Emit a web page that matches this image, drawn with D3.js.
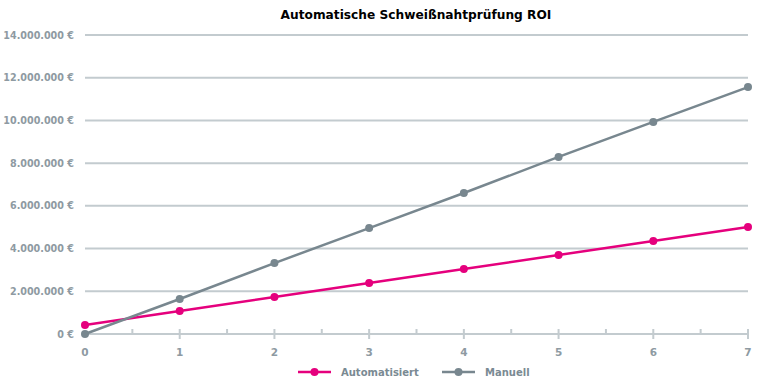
<!DOCTYPE html>
<html>
<head>
<meta charset="utf-8">
<script src="https://cdn.jsdelivr.net/npm/d3@7"></script>
<style>
  body { margin: 0; background: #fff; }
  text { font-family: "DejaVu Sans", sans-serif; }
</style>
</head>
<body>
<svg id="chart" width="757" height="386"></svg>
<script>
const years = [0, 1, 2, 3, 4, 5, 6, 7];
const automatisiert = [420000, 1080000, 1730000, 2390000, 3040000, 3700000, 4350000, 5010000];
const manuell = [0, 1640000, 3320000, 4960000, 6600000, 8290000, 9930000, 11560000];
const yTicks = [0, 2000000, 4000000, 6000000, 8000000, 10000000, 12000000, 14000000];
const seriesNames = ["Automatisiert", "Manuell"];
const colors = ["#e5007d", "#78878f"];

const width = 757, height = 386;
const margin = { top: 35, right: 9, bottom: 52, left: 85 };

const svg = d3.select("#chart");

const x = d3.scaleLinear()
  .domain([0, 7])
  .range([margin.left, width - margin.right]);

const y = d3.scaleLinear()
  .domain([0, 14000000])
  .range([height - margin.bottom, margin.top]);

const fmt = v => d3.format(",")(v).replace(/,/g, ".") + " €";

// gridlines
svg.append("g")
  .selectAll("line")
  .data(yTicks.slice(1))
  .join("line")
  .attr("x1", x(0))
  .attr("x2", x(7))
  .attr("y1", d => y(d))
  .attr("y2", d => y(d))
  .attr("stroke", "#c3cbcf")
  .attr("stroke-width", 2);

// y labels
svg.append("g")
  .attr("transform", `translate(${margin.left - 8},0)`)
  .call(d3.axisLeft(y).tickValues(yTicks).tickFormat(fmt).tickSize(0))
  .call(g => g.select(".domain").remove())
  .call(g => g.selectAll("text")
    .attr("fill", "#8e9aa2")
    .attr("font-size", 9.6)
    .attr("font-weight", "bold")
    .attr("font-family", "DejaVu Sans, sans-serif"));

// x axis with minor ticks
const gx = svg.append("g").attr("transform", `translate(0,${y(0)})`);
gx.append("line")
  .attr("x1", x(0)).attr("x2", x(7))
  .attr("stroke", "#c3cbcf").attr("stroke-width", 2);
gx.append("g")
  .selectAll("line")
  .data(d3.range(0.5, 7, 1))
  .join("line")
  .attr("x1", d => x(d)).attr("x2", d => x(d))
  .attr("y1", -5).attr("y2", 0)
  .attr("stroke", "#c3cbcf").attr("stroke-width", 2);
gx.append("g")
  .selectAll("line")
  .data(years.slice(1))
  .join("line")
  .attr("x1", d => x(d)).attr("x2", d => x(d))
  .attr("y1", -5).attr("y2", 5)
  .attr("stroke", "#c3cbcf").attr("stroke-width", 2);
gx.append("g")
  .selectAll("text")
  .data(years)
  .join("text")
  .attr("x", d => x(d))
  .attr("y", 22)
  .attr("text-anchor", "middle")
  .attr("fill", "#8e9aa2")
  .attr("font-size", 10.5)
  .attr("font-weight", "bold")
  .text(d => d);

// series
const seriesData = [automatisiert, manuell];
const line = d3.line().x((d, i) => x(years[i])).y(d => y(d));
seriesData.forEach((vals, k) => {
  svg.append("path")
    .datum(vals)
    .attr("fill", "none")
    .attr("stroke", colors[k])
    .attr("stroke-width", 2.5)
    .attr("d", line);
  svg.append("g")
    .selectAll("circle")
    .data(vals)
    .join("circle")
    .attr("cx", (d, i) => x(years[i]))
    .attr("cy", d => y(d))
    .attr("r", 4)
    .attr("fill", colors[k]);
});

// title
svg.append("text")
  .attr("x", 416)
  .attr("y", 19)
  .attr("text-anchor", "middle")
  .attr("font-size", 12.2)
  .attr("font-weight", "bold")
  .attr("fill", "#000")
  .text("Automatische Schweißnahtprüfung ROI");

// legend
const legendX = [298, 442];
const lg = svg.append("g").attr("transform", "translate(0,372)");
seriesNames.forEach((name, k) => {
  const g = lg.append("g").attr("transform", `translate(${legendX[k]},0)`);
  g.append("line").attr("x1", 0).attr("x2", 33)
    .attr("stroke", colors[k]).attr("stroke-width", 2.5);
  g.append("circle").attr("cx", 16.5).attr("r", 4).attr("fill", colors[k]);
  g.append("text")
    .attr("x", 43).attr("y", 4)
    .attr("font-size", 10)
    .attr("font-weight", "bold")
    .attr("fill", "#7a8a93")
    .text(name);
});
</script>
</body>
</html>
